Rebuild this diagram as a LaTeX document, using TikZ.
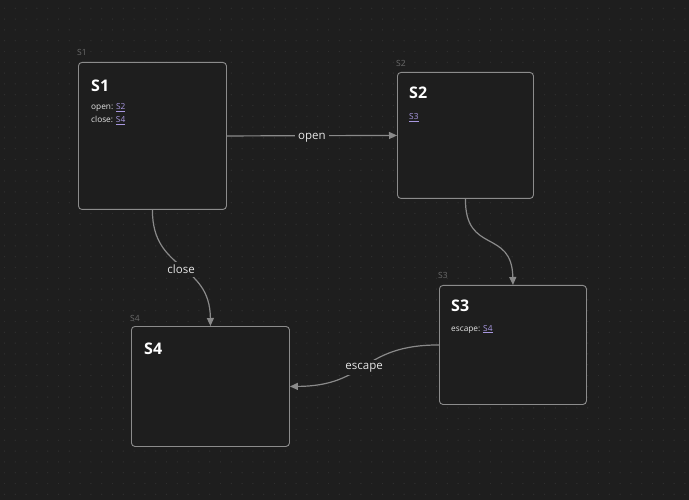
\documentclass[tikz,border=0pt]{standalone}
\usepackage{fontspec}
\setmainfont{Open Sans}
\usetikzlibrary{arrows.meta}
\definecolor{bg}{HTML}{1E1E1E}
\definecolor{dotc}{HTML}{2F2F2F}
\definecolor{boxline}{HTML}{8C8C8C}
\definecolor{edgec}{HTML}{8A8A8A}
\definecolor{txt}{HTML}{E6E6E6}
\definecolor{lnk}{HTML}{A898E0}
\definecolor{tag}{HTML}{6A6A6A}
\tikzset{
  statebox/.style={draw=boxline, line width=0.9pt, rounded corners=3.5pt, fill=bg, anchor=north west, inner sep=0pt},
  tagtext/.style={text=tag, font=\fontsize{8.5}{10}\selectfont, anchor=base west, inner sep=0pt},
  titletext/.style={text=white, font=\fontsize{16}{18}\selectfont\bfseries, anchor=base west, inner sep=0pt},
  bodytext/.style={text=txt, font=\fontsize{8.3}{10}\selectfont, anchor=base west, inner sep=0pt},
  edge/.style={draw=edgec, line width=1.2pt, -{Triangle[length=8pt,width=7pt]}},
  elabel/.style={fill=bg, text=txt, font=\fontsize{11.5}{13}\selectfont, inner sep=3pt, yshift=-2pt},
}
\newcommand{\lk}[1]{\textcolor{lnk}{\underline{#1}}}
\begin{document}
\begin{tikzpicture}[x=1pt,y=-1pt]
\fill[bg] (0,0) rectangle (689,500);
\useasboundingbox (0,0) rectangle (689,500);
\foreach \i in {0,...,63}{
  \foreach \j in {0,...,46}{
    \fill[dotc] (4.5+\i*10.8, 8.3+\j*10.8) circle (0.7);
  }
}
% boxes
\node[statebox, minimum width=148pt, minimum height=147pt] (S1) at (78,62) {};
\node[statebox, minimum width=136pt, minimum height=126pt] (S2) at (397,72) {};
\node[statebox, minimum width=147pt, minimum height=119pt] (S3) at (439,285) {};
\node[statebox, minimum width=158pt, minimum height=120pt] (S4) at (131,326) {};
% tags
\node[tagtext] (t1) at (77,56) {S1};
\node[tagtext] (t2) at (396,67) {S2};
\node[tagtext] (t3) at (438,279) {S3};
\node[tagtext] (t4) at (130,321) {S4};
% titles
\node[titletext] (h1) at (91,92) {S1};
\node[titletext] (h2) at (409,99) {S2};
\node[titletext] (h3) at (451,311) {S3};
\node[titletext] (h4) at (144,354) {S4};
% bodies
\node[bodytext] (b1a) at (91,110) {open: \lk{S2}};
\node[bodytext] (b1b) at (91,123) {close: \lk{S4}};
\node[bodytext] (b2) at (409,120) {\lk{S3}};
\node[bodytext] (b3) at (451,331) {escape: \lk{S4}};
% edges
\draw[edge] (S1.east) -- node[elabel] (l1) {open} (S2.west);
\draw[edge] (S2.south) .. controls (465,255) and (512,228) .. (S3.north);
\draw[edge] (S1.south) .. controls (152,272) and (210,262) .. node[elabel, pos=0.5] (l2) {close} (S4.north);
\draw[edge] (S3.west) .. controls (360,345) and (368,386) .. node[elabel, pos=0.5] (l3) {escape} (S4.east);
\end{tikzpicture}
\end{document}
